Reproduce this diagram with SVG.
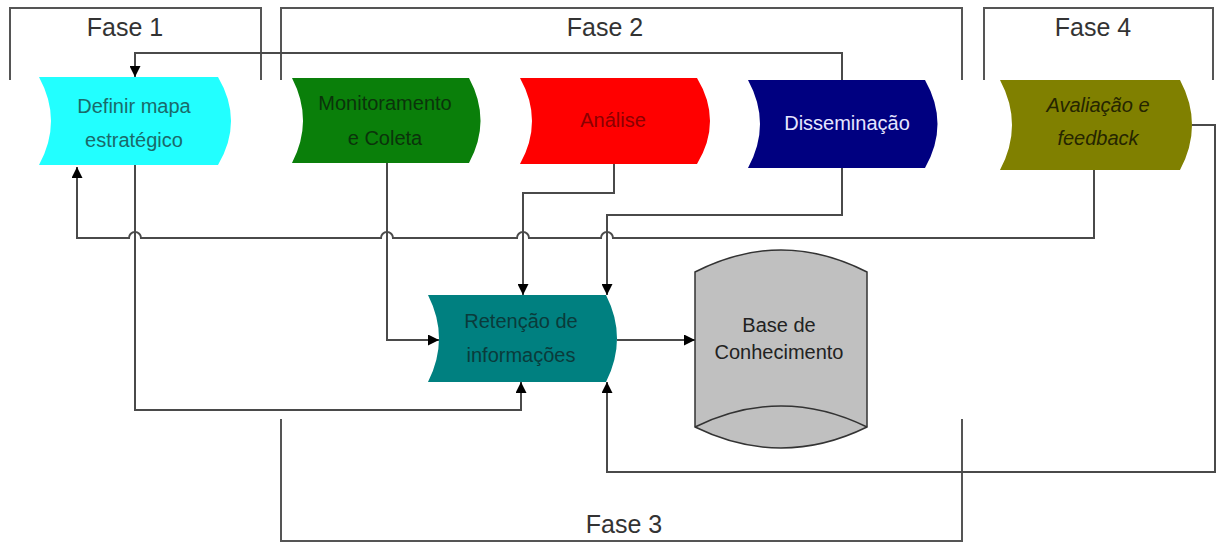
<svg xmlns="http://www.w3.org/2000/svg" width="1216" height="543" viewBox="0 0 1216 543">
  <style>
    .bracket { fill: none; stroke: #555; stroke-width: 2; }
    .phase { font-family: "Liberation Sans", Arial, sans-serif; font-size: 25px; fill: #333; text-anchor: middle; }
    .lbl { font-family: "Liberation Sans", Arial, sans-serif; font-size: 20px; text-anchor: middle; }
    .conn { fill: none; stroke: #4a4a4a; stroke-width: 2; }
    .arrow { marker-end: url(#head); }
    .proc { stroke: none; }
    .db { fill: #c0c0c0; stroke: #333; stroke-width: 1.5; }
  </style>
  <defs>
    <marker id="head" viewBox="0 0 10 10" refX="10" refY="5" markerWidth="11" markerHeight="11" markerUnits="userSpaceOnUse" orient="auto">
      <path d="M0,0 L10,5 L0,10 Z" fill="#000"/>
    </marker>
  </defs>

  <!-- Phase brackets -->
  <g id="fase1">
    <path class="bracket" d="M10,80 V8 H261 V80"/>
    <text class="phase" x="125" y="36">Fase 1</text>
  </g>
  <g id="fase2">
    <path class="bracket" d="M281,80 V8 H962 V80"/>
    <text class="phase" x="605" y="36">Fase 2</text>
  </g>
  <g id="fase4">
    <path class="bracket" d="M984,80 V8 H1213 V80"/>
    <text class="phase" x="1093" y="36">Fase 4</text>
  </g>
  <g id="fase3">
    <path class="bracket" d="M281,419 V541 H962 V419"/>
    <text class="phase" x="624" y="533">Fase 3</text>
  </g>

  <!-- Connectors -->
  <g id="connectors">
    <!-- Disseminação back to Definir mapa -->
    <path class="conn arrow" d="M842,80 V53 H135 V77"/>
    <!-- Análise to Retenção -->
    <path class="conn arrow" d="M614,164 V193 H523 V295"/>
    <!-- Disseminação to Retenção -->
    <path class="conn arrow" d="M842,168 V215 H607 V295"/>
    <!-- Monitoramento to Retenção -->
    <path class="conn arrow" d="M387,163 V340 H439"/>
    <!-- Definir mapa to Retenção -->
    <path class="conn arrow" d="M135,165 V410 H521 V382"/>
    <!-- Avaliação back to Definir mapa, hopping over crossings -->
    <path class="conn arrow" d="M1094,170 V238 H613 A6,6 0 0 0 601,238 H529 A6,6 0 0 0 517,238 H393 A6,6 0 0 0 381,238 H141 A6,6 0 0 0 129,238 H77 V167"/>
    <!-- Avaliação to Retenção -->
    <path class="conn arrow" d="M1192,125 H1215 V472 H607 V382"/>
    <!-- Retenção to Base de Conhecimento -->
    <path class="conn arrow" d="M617,340 H695"/>
  </g>

  <!-- Process nodes -->
  <g id="definir">
    <path class="proc" fill="#22ffff" d="M39,77 H218 Q244,121 218,165 H39 Q63,121 39,77 Z"/>
    <text class="lbl" fill="#1a6a6a" x="134" y="113">Definir mapa</text>
    <text class="lbl" fill="#1a6a6a" x="134" y="147">estratégico</text>
  </g>
  <g id="monitoramento">
    <path class="proc" fill="#0a7f0a" d="M292,78 H469 Q492,120.5 469,163 H292 Q314,120.5 292,78 Z"/>
    <text class="lbl" fill="#0b330b" x="385" y="110">Monitoramento</text>
    <text class="lbl" fill="#0b330b" x="385" y="145">e Coleta</text>
  </g>
  <g id="analise">
    <path class="proc" fill="#ff0000" d="M520,78 H697 Q723,121 697,164 H520 Q544,121 520,78 Z"/>
    <text class="lbl" fill="#8a0000" x="613" y="127">Análise</text>
  </g>
  <g id="disseminacao">
    <path class="proc" fill="#000080" d="M748,80 H925 Q950,124 925,168 H748 Q772,124 748,80 Z"/>
    <text class="lbl" fill="#e6e6ff" x="847" y="130">Disseminação</text>
  </g>
  <g id="avaliacao">
    <path class="proc" fill="#808000" d="M1000,80 H1180 Q1204,125 1180,170 H1000 Q1024,125 1000,80 Z"/>
    <text class="lbl" fill="#252500" font-style="italic" x="1098" y="112">Avaliação e</text>
    <text class="lbl" fill="#252500" font-style="italic" x="1098" y="145">feedback</text>
  </g>
  <g id="retencao">
    <path class="proc" fill="#008080" d="M428,295 H606 Q628,338.5 606,382 H428 Q450,338.5 428,295 Z"/>
    <text class="lbl" fill="#0a3b3b" x="521" y="328">Retenção de</text>
    <text class="lbl" fill="#0a3b3b" x="521" y="362">informações</text>
  </g>

  <!-- Knowledge store -->
  <g id="base">
    <path class="db" d="M695,272 Q781,228 867,272 V427 Q781,469 695,427 Z"/>
    <path class="db" fill="none" d="M695,427 Q781,385 867,427"/>
    <text class="lbl" fill="#222" x="779" y="332">Base de</text>
    <text class="lbl" fill="#222" x="779" y="359">Conhecimento</text>
  </g>
</svg>
